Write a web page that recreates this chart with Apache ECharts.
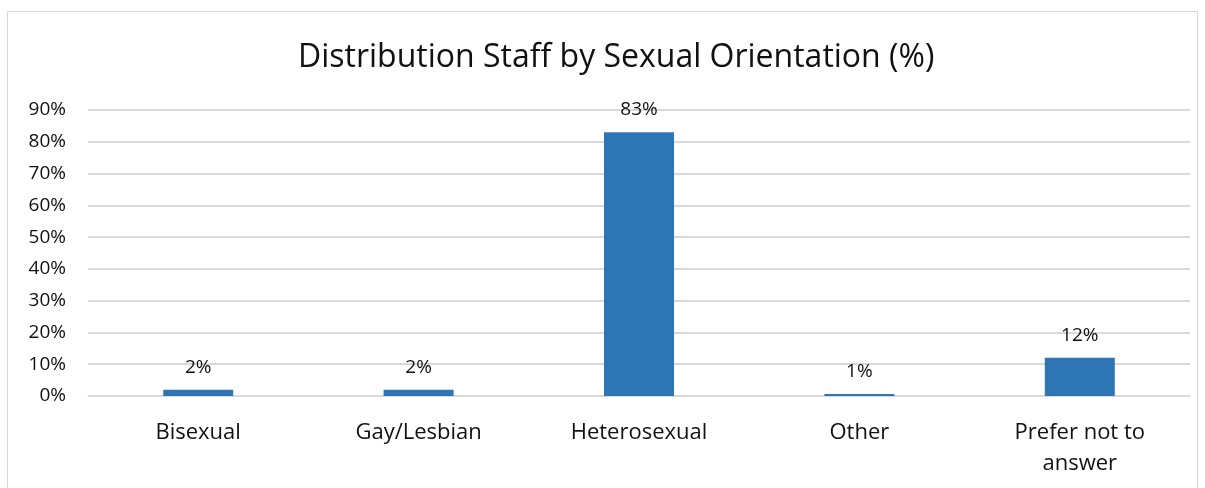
<!DOCTYPE html>
<html>
<head>
  <meta charset="utf-8">
  <title>Distribution Staff by Sexual Orientation</title>
  <style>
    html, body { margin: 0; padding: 0; background: #fff; }
    #main { width: 1205px; height: 488px; }
  </style>
</head>
<body>
  <div id="main"></div>
<script src="https://cdn.jsdelivr.net/npm/echarts@6/dist/echarts.min.js"></script>
<script>
// data
let categories = ['Bisexual', 'Gay/Lesbian', 'Heterosexual', 'Other', 'Prefer not to\nanswer'];
let values = [2, 2, 83, 0.6, 12];
let labels = ['2%', '2%', '83%', '1%', '12%'];

let myChart = echarts.init(document.querySelector('#main'));
const font = '"Open Sans", "Noto Sans", sans-serif';

let option = {
    animation: false,
    textStyle: { fontFamily: font },
    title: {
        text: 'Distribution Staff by Sexual Orientation (%)',
        left: 293,
        top: 37,
        textStyle: { fontSize: 32, fontWeight: 'normal', color: '#111', fontFamily: font }
    },
    graphic: [{
        type: 'rect',
        shape: { x: 7.5, y: 11.5, width: 1190, height: 490 },
        style: { fill: 'none', stroke: '#d9d9d9', lineWidth: 1 },
        silent: true
    }],
    grid: { left: 88, right: 15, top: 110, bottom: 92, containLabel: false },
    xAxis: {
        type: 'category',
        data: categories,
        axisLine: { lineStyle: { color: '#d9d9d9' } },
        axisTick: { show: false },
        axisLabel: {
            interval: 0, fontSize: 22, color: '#111', margin: 21, lineHeight: 31, fontFamily: font
        }
    },
    yAxis: {
        type: 'value',
        min: 0,
        max: 90,
        interval: 10,
        axisLine: { show: false },
        axisTick: { show: false },
        splitLine: { lineStyle: { color: '#d9d9d9', width: 2 } },
        axisLabel: {
            formatter: '{value}%', fontSize: 19, color: '#111', margin: 22, fontFamily: font
        }
    },
    series: [{
        type: 'bar',
        data: values,
        barWidth: 70,
        itemStyle: { color: '#2e75b6' },
        label: {
            show: true,
            position: 'top',
            distance: 13,
            fontSize: 19,
            color: '#111',
            fontFamily: font,
            formatter: p => labels[p.dataIndex]
        }
    }]
};
myChart.setOption(option);
</script>
</body>
</html>
